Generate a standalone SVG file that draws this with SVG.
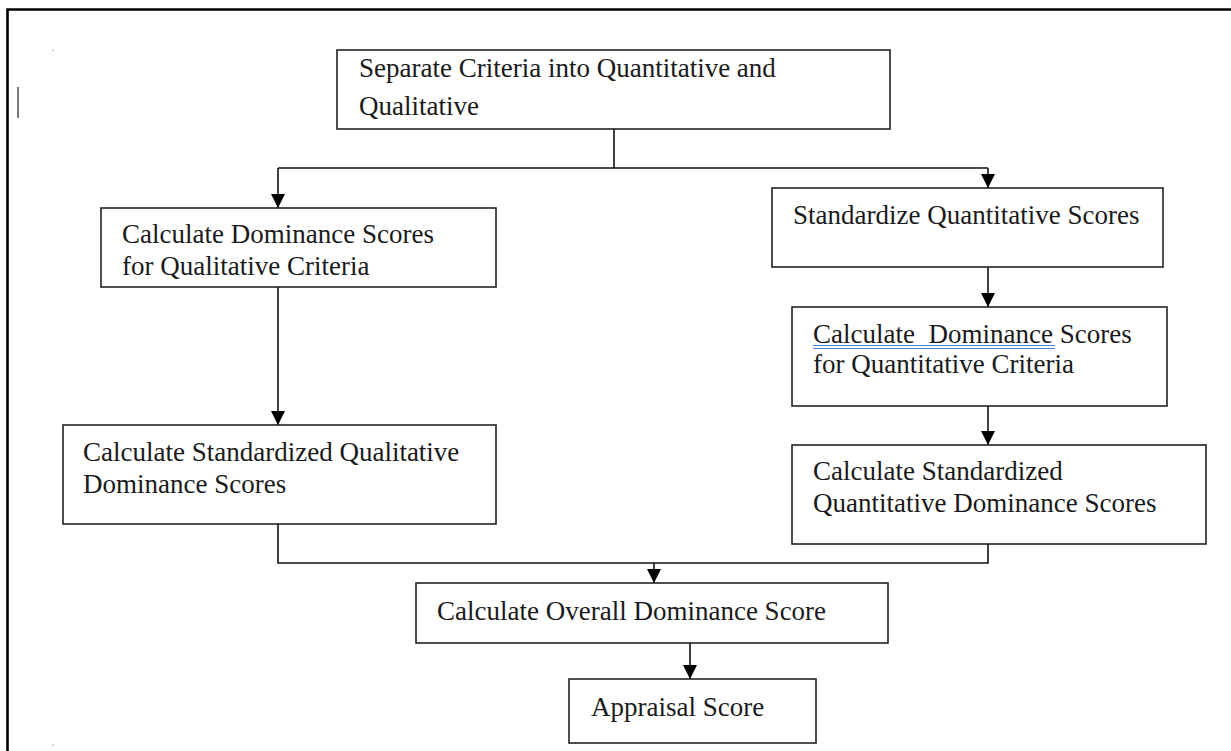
<svg xmlns="http://www.w3.org/2000/svg" width="1231" height="751" viewBox="0 0 1231 751">
  <style>
    .box { fill: #ffffff; stroke: #222222; stroke-width: 1.6; }
    .lbl { font-family: "Liberation Serif", "Times New Roman", serif; font-size: 27px; fill: #1a1a1a; }
    .wire { fill: none; stroke: #111111; stroke-width: 1.6; }
    .frame { fill: none; stroke: #000000; stroke-width: 2.6; }
  </style>
  <defs>
    <marker id="arrow" markerUnits="userSpaceOnUse" markerWidth="14" markerHeight="14" refX="14" refY="7" orient="auto">
      <path d="M0,0 L14,7 L0,14 z" fill="#000000"/>
    </marker>
  </defs>

  <rect width="1231" height="751" fill="#ffffff"/>

  <!-- page frame (left and top edges) -->
  <path class="frame" d="M7.5,751 V9.5 H1231"/>
  <!-- text cursor and stray marks -->
  <line x1="18" y1="87" x2="18" y2="118" stroke="#222222" stroke-width="1.2"/>
  <rect x="52.5" y="49.5" width="1.2" height="1.2" fill="#888888"/>
  <rect x="52.5" y="744.5" width="1.2" height="1.2" fill="#888888"/>

  <!-- connectors -->
  <g id="connectors">
    <path class="wire" d="M614,129 V168"/>
    <path class="wire" d="M278,168 H988"/>
    <path class="wire" d="M278,168 V208" marker-end="url(#arrow)"/>
    <path class="wire" d="M988,168 V188" marker-end="url(#arrow)"/>
    <path class="wire" d="M278,287 V425" marker-end="url(#arrow)"/>
    <path class="wire" d="M988,267 V307" marker-end="url(#arrow)"/>
    <path class="wire" d="M988,406 V445" marker-end="url(#arrow)"/>
    <path class="wire" d="M278,524 V563 H988 V544"/>
    <path class="wire" d="M654,563 V583" marker-end="url(#arrow)"/>
    <path class="wire" d="M690,640 V679" marker-end="url(#arrow)"/>
  </g>

  <g id="separate">
    <rect class="box" x="337" y="50" width="553" height="79"/>
    <text class="lbl" x="359" y="77">Separate Criteria into Quantitative and</text>
    <text class="lbl" x="359" y="115">Qualitative</text>
  </g>

  <g id="qual-dominance">
    <rect class="box" x="101" y="208" width="395" height="79"/>
    <text class="lbl" x="122" y="243">Calculate Dominance Scores</text>
    <text class="lbl" x="122" y="275">for Qualitative Criteria</text>
  </g>

  <g id="standardize">
    <rect class="box" x="772" y="188" width="391" height="79"/>
    <text class="lbl" x="793" y="224">Standardize Quantitative Scores</text>
  </g>

  <g id="quant-dominance">
    <rect class="box" x="792" y="307" width="375" height="99"/>
    <text class="lbl" x="813" y="343" xml:space="preserve">Calculate  Dominance Scores</text>
    <line x1="813" y1="345.5" x2="1055" y2="345.5" stroke="#4a7fe0" stroke-width="1"/>
    <line x1="813" y1="348.5" x2="1055" y2="348.5" stroke="#4a7fe0" stroke-width="1"/>
    <text class="lbl" x="813" y="373">for Quantitative Criteria</text>
  </g>

  <g id="std-qual">
    <rect class="box" x="63" y="425" width="433" height="99"/>
    <text class="lbl" x="83" y="461">Calculate Standardized Qualitative</text>
    <text class="lbl" x="83" y="493">Dominance Scores</text>
  </g>

  <g id="std-quant">
    <rect class="box" x="792" y="445" width="414" height="99"/>
    <text class="lbl" x="813" y="480">Calculate Standardized</text>
    <text class="lbl" x="813" y="512">Quantitative Dominance Scores</text>
  </g>

  <g id="overall">
    <rect class="box" x="416" y="583" width="472" height="60"/>
    <text class="lbl" x="437" y="620">Calculate Overall Dominance Score</text>
  </g>

  <g id="appraisal">
    <rect class="box" x="569" y="679" width="247" height="64"/>
    <text class="lbl" x="591" y="716">Appraisal Score</text>
  </g>
</svg>
